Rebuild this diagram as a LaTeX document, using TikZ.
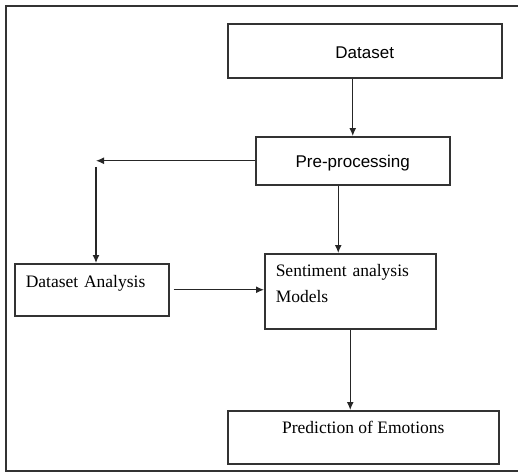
\documentclass[tikz,border=0pt]{standalone}
\usepackage{fontspec}
\setmainfont{Liberation Serif}
\setsansfont{Liberation Sans}
\usetikzlibrary{arrows.meta,positioning}

\begin{document}
\begin{tikzpicture}[
	x=1pt, y=-1pt,
	box/.style={draw=black!80, line width=1.5pt, inner ysep=0pt, inner xsep=11pt,
		anchor=north west, font=\fontsize{17.5}{26}\selectfont},
	arr/.style={-{Latex[length=8pt,width=7pt]}, line width=1.3pt, black!85}
]
	\useasboundingbox (0,0) rectangle (518,474);
	% outer frame, open at the right
	\draw[black!80, line width=2pt] (518,6) -- (6,6) -- (6,471) -- (518,471);

	% Dataset at top
	\node[box, minimum width=274pt, text height=35pt, text depth=19pt, font=\sffamily\fontsize{17}{20}\selectfont]
		(ds) at (227,23) {Dataset};
	\node[box, minimum width=194pt, text height=31pt, text depth=17pt, font=\sffamily\fontsize{17}{20}\selectfont]
		(pre) at (255,136) {Pre-processing};

	% analysis and models
	\node[box, text width=132pt, align=left, text height=24pt, text depth=28pt]
		(dsa) at (14,263) {Dataset Analysis};
	\node[box, text width=149pt, align=left, text height=23pt, text depth=52pt]
		(sent) at (264,253) {Sentiment analysis\\ Models};

	% Output
	\node[box, minimum width=271pt, text height=23pt, text depth=30pt]
		(pred) at (227,410) {Prediction of Emotions};

	\coordinate (turn) at (96,0);
	\coordinate (sin) at ([xshift=-12pt]sent.north);

	\draw[arr] (ds.south -| pre.north) -- (pre.north);
	\draw[arr] (pre.west) -- (pre.west -| turn);
	\draw[arr] ([yshift=-6pt]pre.west -| turn) -- (dsa.north -| turn);
	\draw[arr] (pre.south -| sin) -- (sin);
	\draw[arr] ([xshift=4pt]dsa.east) -- (sent.west |- dsa.east);
	\draw[arr] (sent.south) -- (sent.south |- pred.north);
\end{tikzpicture}
\end{document}
